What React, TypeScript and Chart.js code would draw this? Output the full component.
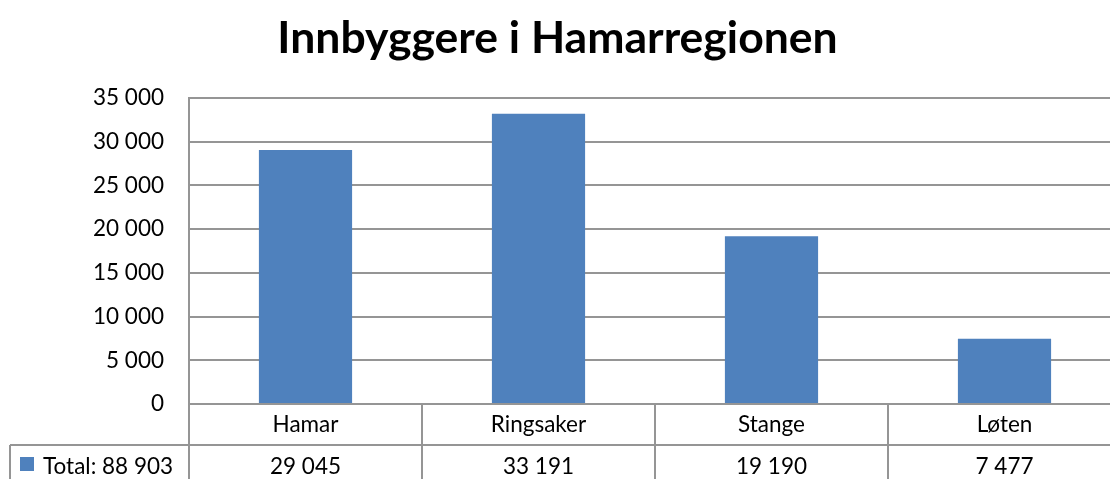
import React, { useEffect, useRef } from "react";
import { Chart, registerables } from "chart.js";

Chart.register(...registerables);

const TITLE = "Innbyggere i Hamarregionen";
const CATEGORIES = ["Hamar", "Ringsaker", "Stange", "Løten"];
const VALUES = [29045, 33191, 19190, 7477];
const SERIES_NAME = "Total";
const Y_MIN = 0;
const Y_MAX = 35000;
const Y_STEP = 5000;

const BAR_COLOR = "#4F81BD";
const LINE_COLOR = "#959595";
const TEXT_COLOR = "#000000";
const FONT = "Lato";
const TEXT_SIZE = 22.5;
const TITLE_SIZE = 44.5;

const fmt = (n: number) =>
  Math.round(n).toString().replace(/\B(?=(\d{3})+(?!\d))/g, " ");

const tablePlugin = {
  id: "excelTable",
  afterDraw(chart: any) {
    const ctx: CanvasRenderingContext2D = chart.ctx;
    const area = chart.chartArea;
    const xs = chart.scales.x;
    const H = chart.height;
    const n = CATEGORIES.length;
    const cw = (area.right - area.left) / n;
    const rowSep = area.bottom + 41;
    ctx.save();
    // title
    ctx.fillStyle = TEXT_COLOR;
    ctx.font = `bold ${TITLE_SIZE}px ${FONT}`;
    ctx.textAlign = "center";
    ctx.textBaseline = "alphabetic";
    ctx.fillText(TITLE, 557.5, 53);

    ctx.strokeStyle = LINE_COLOR;
    ctx.lineWidth = 2;
    ctx.beginPath();
    // left axis continuation
    ctx.moveTo(Math.round(area.left), area.bottom);
    ctx.lineTo(Math.round(area.left), H);
    // category boundaries
    for (let i = 0; i < n; i++) {
      const c = xs.getPixelForValue(i);
      const b = Math.round(c + cw / 2);
      ctx.moveTo(b, area.bottom);
      ctx.lineTo(b, H);
    }
    // row separator
    ctx.moveTo(10, rowSep);
    ctx.lineTo(area.right, rowSep);
    // legend cell left border
    ctx.moveTo(10, rowSep);
    ctx.lineTo(10, H);
    ctx.stroke();

    ctx.fillStyle = TEXT_COLOR;
    ctx.font = `${TEXT_SIZE}px ${FONT}`;
    ctx.textAlign = "center";
    for (let i = 0; i < n; i++) {
      const c = xs.getPixelForValue(i);
      ctx.fillText(CATEGORIES[i], c, area.bottom + 28);
      ctx.fillText(fmt(VALUES[i]), c, area.bottom + 69.5);
    }
    // legend
    const total = VALUES.reduce((a, b) => a + b, 0);
    ctx.fillStyle = BAR_COLOR;
    ctx.fillRect(20, area.bottom + 53, 14, 14);
    ctx.fillStyle = TEXT_COLOR;
    ctx.textAlign = "left";
    ctx.fillText(`${SERIES_NAME}: ${fmt(total)}`, 43, area.bottom + 69.5);
    ctx.restore();
  },
};

export default function App() {
  const ref = useRef<HTMLCanvasElement | null>(null);
  useEffect(() => {
    if (!ref.current) return;
    const chart = new Chart(ref.current, {
      type: "bar",
      data: {
        labels: CATEGORIES,
        datasets: [
          {
            label: SERIES_NAME,
            data: VALUES,
            backgroundColor: BAR_COLOR,
            borderWidth: 0,
            categoryPercentage: 1,
            barPercentage: 0.4,
          },
        ],
      },
      options: {
        responsive: false,
        animation: false,
        layout: { padding: { top: 98, bottom: 86, left: 0, right: 1 } },
        plugins: {
          legend: { display: false },
          title: { display: false },
          tooltip: { enabled: false },
        },
        scales: {
          x: { type: "category", display: false },
          y: {
            min: Y_MIN,
            max: Y_MAX,
            afterFit: (s: any) => {
              s.width = 189;
            },
            ticks: {
              stepSize: Y_STEP,
              padding: 25,
              color: TEXT_COLOR,
              font: { family: FONT, size: TEXT_SIZE },
              callback: (v: any) => fmt(Number(v)),
            },
            grid: { color: LINE_COLOR, lineWidth: 2, drawTicks: false },
            border: { display: true, color: LINE_COLOR, width: 2 },
          },
        },
      },
      plugins: [tablePlugin],
    });
    const fonts: any = (document as any).fonts;
    if (fonts && fonts.load) {
      Promise.all([
        fonts.load(`${TEXT_SIZE}px ${FONT}`),
        fonts.load(`bold ${TITLE_SIZE}px ${FONT}`),
      ])
        .then(() => chart.update())
        .catch(() => {});
    }
    return () => chart.destroy();
  }, []);
  return (
    <div
      style={{
        position: "absolute",
        left: 0,
        top: 0,
        width: 1110,
        height: 479,
        overflow: "hidden",
        background: "#ffffff",
      }}
    >
      <canvas ref={ref} width={1122} height={490} style={{ display: "block" }} />
    </div>
  );
}
